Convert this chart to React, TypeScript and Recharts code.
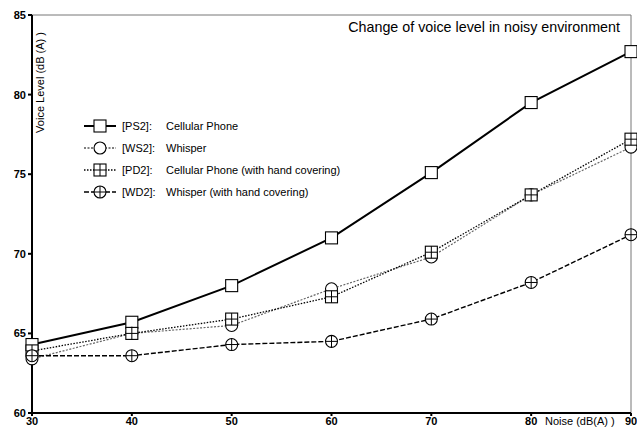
import {
  LineChart, Line, XAxis, YAxis, ReferenceLine,
} from 'recharts';

const noise = [30, 40, 50, 60, 70, 80, 90];
const ps2 = [64.3, 65.7, 68.0, 71.0, 75.1, 79.5, 82.7];
const ws2 = [63.4, 65.0, 65.5, 67.8, 69.8, 73.7, 76.7];
const pd2 = [63.9, 65.0, 65.9, 67.3, 70.1, 73.7, 77.2];
const wd2 = [63.6, 63.6, 64.3, 64.5, 65.9, 68.2, 71.2];

const xTicks = [30, 40, 50, 60, 70, 80, 90];
const yTicks = [60, 65, 70, 75, 80, 85];

const FONT = '"Liberation Sans", Arial, sans-serif';

type Shape = 'square' | 'circle' | 'squarePlus' | 'circlePlus';

interface SeriesDef {
  key: string;
  label: string;
  code: string;
  color: string;
  width: number;
  dash?: string;
  shape: Shape;
}

const SERIES: SeriesDef[] = [
  { key: 'ps2', code: '[PS2]:', label: 'Cellular Phone', color: '#000', width: 2, shape: 'square' },
  { key: 'ws2', code: '[WS2]:', label: 'Whisper', color: '#666', width: 1.2, dash: '2 1.5', shape: 'circle' },
  { key: 'pd2', code: '[PD2]:', label: 'Cellular Phone (with hand covering)', color: '#000', width: 1.3, dash: '1.5 1.5', shape: 'squarePlus' },
  { key: 'wd2', code: '[WD2]:', label: 'Whisper (with hand covering)', color: '#000', width: 1.4, dash: '5 2', shape: 'circlePlus' },
];

const data = noise.map((n, i) => ({
  noise: n, ps2: ps2[i], ws2: ws2[i], pd2: pd2[i], wd2: wd2[i],
}));

function Marker({ cx, cy, shape }: { cx: number; cy: number; shape: Shape }) {
  const s = 6;
  const r = 6;
  const stroke = { stroke: '#000', strokeWidth: 1.1, fill: '#fff' };
  if (shape === 'square') {
    return <rect x={cx - s} y={cy - s} width={2 * s} height={2 * s} {...stroke} />;
  }
  if (shape === 'circle') {
    return <circle cx={cx} cy={cy} r={r} {...stroke} />;
  }
  if (shape === 'squarePlus') {
    return (
      <g>
        <rect x={cx - s} y={cy - s} width={2 * s} height={2 * s} {...stroke} />
        <line x1={cx - s} x2={cx + s} y1={cy} y2={cy} stroke="#000" strokeWidth={1} />
        <line x1={cx} x2={cx} y1={cy - s} y2={cy + s} stroke="#000" strokeWidth={1} />
      </g>
    );
  }
  return (
    <g>
      <circle cx={cx} cy={cy} r={r} {...stroke} />
      <line x1={cx - r} x2={cx + r} y1={cy} y2={cy} stroke="#000" strokeWidth={1} />
      <line x1={cx} x2={cx} y1={cy - r} y2={cy + r} stroke="#000" strokeWidth={1} />
    </g>
  );
}

function LegendBox() {
  return (
    <div style={{ fontFamily: FONT, fontSize: 11, color: '#000' }}>
      {SERIES.map((s) => (
        <div key={s.key} style={{ display: 'flex', alignItems: 'center', height: 22 }}>
          <svg width={34} height={16}>
            <line x1={1} x2={33} y1={8} y2={8} stroke={s.key === 'ws2' ? '#000' : s.color}
              strokeWidth={s.width} strokeDasharray={s.dash} />
            <Marker cx={17} cy={8} shape={s.shape} />
          </svg>
          <span style={{ marginLeft: 5, width: 44 }}>{s.code}</span>
          <span>{s.label}</span>
        </div>
      ))}
    </div>
  );
}

export default function App() {
  return (
    <div style={{ position: 'absolute', left: 0, top: 0, width: 637, height: 432, background: '#fff' }}>
      <LineChart
        width={637}
        height={432}
        data={data}
        margin={{ top: 15, right: 6, bottom: 0, left: 0 }}
      >
        <ReferenceLine y={85} stroke="#777" strokeWidth={1} />
        <ReferenceLine x={90} stroke="#777" strokeWidth={1} />
        <XAxis
          dataKey="noise"
          type="number"
          domain={[30, 90]}
          ticks={xTicks}
          height={19}
          stroke="#000"
          strokeWidth={2}
          tickSize={3}
          tickMargin={1}
          tick={{ fill: '#000', fontSize: 11, fontWeight: 'bold', fontFamily: FONT }}
        />
        <YAxis
          type="number"
          domain={[60, 85]}
          ticks={yTicks}
          width={32}
          stroke="#000"
          strokeWidth={2}
          tickSize={4}
          tickMargin={2}
          tick={{ fill: '#000', fontSize: 11, fontWeight: 'bold', fontFamily: FONT }}
        />
        {SERIES.map((s) => (
          <Line
            key={s.key}
            dataKey={s.key}
            type="linear"
            stroke={s.color}
            strokeWidth={s.width}
            strokeDasharray={s.dash}
            isAnimationActive={false}
            dot={(p: any) => <Marker key={`${s.key}-${p.index}`} cx={p.cx} cy={p.cy} shape={s.shape} />}
            activeDot={false}
          />
        ))}
      </LineChart>
      <div style={{ position: 'absolute', left: 83, top: 115 }}>
        <LegendBox />
      </div>
      <div style={{ position: 'absolute', right: 17, top: 19, fontFamily: FONT, fontSize: 14.3, color: '#000' }}>
        Change of voice level in noisy environment
      </div>
      <div style={{ position: 'absolute', left: 545, top: 415, fontFamily: FONT, fontSize: 11, color: '#000' }}>
        Noise (dB(A) )
      </div>
      <div
        style={{
          position: 'absolute', left: 34, top: 32, fontFamily: FONT, fontSize: 11, color: '#000',
          transform: 'rotate(-90deg) translateX(-100%)', transformOrigin: 'top left', whiteSpace: 'nowrap',
        }}
      >
        Voice Level (dB (A) )
      </div>
    </div>
  );
}
